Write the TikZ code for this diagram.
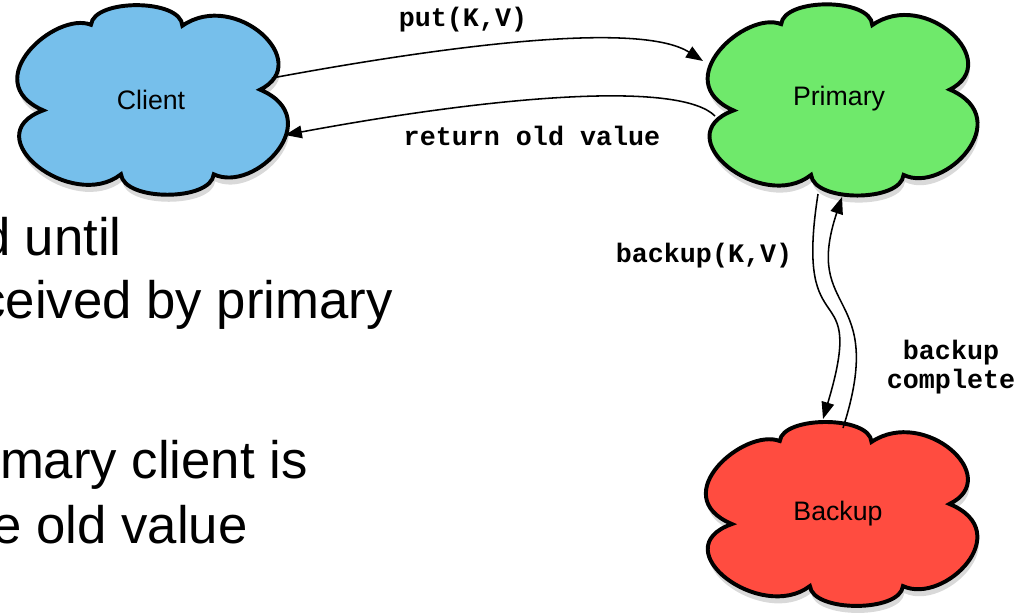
\documentclass[tikz,border=0pt]{standalone}
\usepackage{fontspec}
\setmainfont{Liberation Sans}
\setmonofont{Liberation Mono}
\usetikzlibrary{calc,shadows,arrows.meta}

\definecolor{clientblue}{RGB}{118,191,235}
\definecolor{primarygreen}{RGB}{111,233,107}
\definecolor{backupred}{RGB}{255,76,64}

% six puffs, drawn in a unit box
\tikzset{
  puffcloud/.pic={
    \path[pic actions, drop shadow={shadow xshift=1pt, shadow yshift=-5pt, opacity=0.3}]
      (0.80,0.11) .. controls (1.20,0.40) and (0.62,1.18) .. (0.23,0.79)
      .. controls (0.22,1.08) and (-0.42,1.08) .. (-0.44,0.80)
      .. controls (-0.70,0.95) and (-1.28,0.20) .. (-0.79,-0.11)
      .. controls (-1.30,-0.38) and (-0.58,-1.20) .. (-0.22,-0.79)
      .. controls (-0.20,-1.08) and (0.44,-1.08) .. (0.46,-0.79)
      .. controls (0.76,-1.00) and (1.30,-0.20) .. (0.80,0.11) -- cycle;
  }
}

\begin{document}
\begin{tikzpicture}[x=0.025cm, y=-0.025cm,
    cloudbody/.style={draw=black, line width=2.8pt},
    server/.style={font=\fontsize{19}{22}\selectfont},
    msg/.style={line width=1.1pt, -{Triangle[length=12pt, width=9pt]}},
    msglabel/.style={font=\ttfamily\bfseries\fontsize{19}{20.6}\selectfont},
    bodytext/.style={anchor=base east, inner sep=0pt, font=\fontsize{37.5}{40}\selectfont}]
    \useasboundingbox (0,0) rectangle (1023,613);

    % servers
    \path (151,100) pic[cloudbody, fill=clientblue, x=3.41cm, y=2.35cm] {puffcloud};
    \path (841,100) pic[cloudbody, fill=primarygreen, x=3.40cm, y=2.37cm] {puffcloud};
    \path (840,514) pic[cloudbody, fill=backupred, x=3.42cm, y=2.28cm] {puffcloud};
    \node[server] (client) at (151,100) {Client};
    \node[server] (primary) at (839,99) {Primary};
    \node[server] (backup) at (838,514) {Backup};

    % put / reply
    \draw[msg] ($(client)+(121,-22)$) .. controls +(178,-33) and +(-63,-40) .. ($(primary)+(-136,-38)$);
    \draw[msg] ($(primary)+(-124,17)$) .. controls +(-35,-35) and +(215,-40) .. ($(client)+(134,35)$);
    \node[msglabel, anchor=base] (putlbl) at (463,26) {put(K,V)};
    \node[msglabel, anchor=base] (retlbl) at (532,145) {return old value};

    % backup messages
    \draw[msg] ($(primary)+(-21,95)$) .. controls +(-25,160) and +(45,-150) .. ($(backup)+(-15,-95)$);
    \draw[msg] ($(backup)+(5,-86)$) .. controls +(45,-140) and +(-40,120) .. ($(primary)+(3,98)$);
    \node[msglabel, anchor=base] (baklbl) at (704,262) {backup(K,V)};
    \node[msglabel, align=center] (donelbl) at (951,367) {backup\\complete};

    % slide text (cut off on the left)
    \node[bodytext] (l1) at (122,255) {d until};
    \node[bodytext] (l2) at (393,318) {ceived by primary};
    \node[bodytext] (l3) at (308,478) {mary client is};
    \node[bodytext] (l4) at (248,543) {e old value};
\end{tikzpicture}
\end{document}
